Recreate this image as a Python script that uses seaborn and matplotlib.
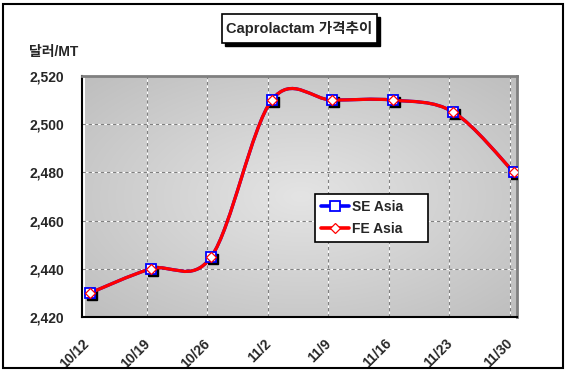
import numpy as np
import pandas as pd
import matplotlib
matplotlib.use("Agg")
import matplotlib.pyplot as plt
import seaborn as sns
from matplotlib.path import Path
from matplotlib.patches import PathPatch, Rectangle
from matplotlib.lines import Line2D
import matplotlib.transforms as mtransforms

# ---- data ----
dates = ["10/12", "10/19", "10/26", "11/2", "11/9", "11/16", "11/23", "11/30"]
se_asia = [2430, 2440, 2445, 2510, 2510, 2510, 2505, 2480]
fe_asia = [2430, 2440, 2445, 2510, 2510, 2510, 2505, 2480]
y_ticks = [2420, 2440, 2460, 2480, 2500, 2520]
title_text = "Caprolactam 가격추이"
y_label = "달러/MT"
series_names = ["SE Asia", "FE Asia"]

sns.set_theme(style="white")
FONT = ["Liberation Sans", "Noto Sans CJK KR", "DejaVu Sans"]
plt.rcParams["font.family"] = FONT

W, H = 569, 373
fig = plt.figure(figsize=(W / 100, H / 100), dpi=100)
fig.patch.set_facecolor("white")

L, R, T, B = 82, 517, 76, 317
ax = fig.add_axes([L / W, (H - B) / H, (R - L) / W, (B - T) / H])

x = np.arange(len(dates))
df = pd.DataFrame({
    "pos": np.concatenate([x, x]),
    "price": se_asia + fe_asia,
    "series": [series_names[0]] * len(x) + [series_names[1]] * len(x),
})

xlim = (-0.085, 7.05)
ylim = (y_ticks[0], y_ticks[-1])
ax.set_xlim(*xlim)
ax.set_ylim(*ylim)

# gradient background (lighter centre)
gx, gy = np.meshgrid(np.linspace(-1, 1, 300), np.linspace(-1, 1, 200))
r = np.sqrt(gx ** 2 + gy ** 2) / np.sqrt(2)
val = 0.895 - 0.15 * np.clip(r, 0, 1) ** 1.0
img = np.dstack([val, val, val])
ax.imshow(img, extent=[xlim[0], xlim[1], ylim[0], ylim[1]], aspect="auto",
          zorder=0, interpolation="bilinear")

# grid lines (white under grey dashes)
grid_off = 0.065
for yv in y_ticks[1:-1]:
    ax.axhline(yv, color="white", lw=0.8, zorder=1)
    ax.axhline(yv, color="#808080", lw=0.8, ls=(0, (3, 2.5)), zorder=1.1)
for xv in x[1:]:
    ax.axvline(xv - grid_off, color="white", lw=0.8, zorder=1)
    ax.axvline(xv - grid_off, color="#808080", lw=0.8, ls=(0, (3, 2.5)), zorder=1.1)


def smooth_path(xs, ys):
    pts = np.column_stack([xs, ys]).astype(float)
    n = len(pts)
    verts = [pts[0]]
    codes = [Path.MOVETO]
    for i in range(n - 1):
        p0 = pts[i - 1] if i > 0 else pts[i]
        p1 = pts[i]
        p2 = pts[i + 1]
        p3 = pts[i + 2] if i + 2 < n else pts[i + 1]
        c1 = p1 + (p2 - p0) / 6.0
        c2 = p2 - (p3 - p1) / 6.0
        verts += [c1, c2, p2]
        codes += [Path.CURVE4] * 3
    return Path(verts, codes)


ax.add_patch(PathPatch(smooth_path(x, se_asia), fill=False, edgecolor="#0000ff",
                       lw=2.3, zorder=3, capstyle="round"))
ax.add_patch(PathPatch(smooth_path(x, fe_asia), fill=False, edgecolor="#ff0000",
                       lw=2.3, zorder=3.5, capstyle="round"))

# marker shadows
shadow = mtransforms.offset_copy(ax.transData, fig=fig, x=2, y=-2, units="dots")
ax.plot(x, se_asia, ls="", marker="s", ms=6.5, mfc="black", mec="black",
        transform=shadow, zorder=3.2)

sub_se = df[df.series == series_names[0]]
sub_fe = df[df.series == series_names[1]]
sns.lineplot(data=sub_se, x="pos", y="price", ax=ax, linestyle="", marker="s",
             markersize=6.8, markerfacecolor="white", markeredgecolor="#0000ff",
             markeredgewidth=1.3, color="#0000ff", zorder=4, legend=False)
sns.lineplot(data=sub_fe, x="pos", y="price", ax=ax, linestyle="", marker="D",
             markersize=5.5, markerfacecolor="white", markeredgecolor="#ff0000",
             markeredgewidth=0.9, color="#ff0000", zorder=5, legend=False)

# axes styling
ax.set_xlabel("")
ax.set_ylabel("")
ax.set_yticks(y_ticks)
ax.set_yticklabels([f"{v:,}" for v in y_ticks], fontsize=10, fontweight="bold")
ax.set_xticks(x - grid_off - 0.07)
ax.set_xticklabels(dates, fontsize=10, fontweight="bold", rotation=45,
                   ha="right", va="top", rotation_mode="anchor")
ax.tick_params(axis="y", length=0, pad=13)
ax.tick_params(axis="x", length=0, pad=14)
for s in ["left", "bottom"]:
    ax.spines[s].set_color("black")
    ax.spines[s].set_linewidth(1.5)
for s in ["top", "right"]:
    ax.spines[s].set_color("#808080")
    ax.spines[s].set_linewidth(2)

# legend
handles = [
    Line2D([], [], color="#0000ff", lw=2.6, marker="s", ms=6.5, mfc="white",
           mec="#0000ff", mew=1.3),
    Line2D([], [], color="#ff0000", lw=2.6, marker="D", ms=5.5, mfc="white",
           mec="#ff0000", mew=0.9),
]
leg = ax.legend(handles, series_names, loc="lower left",
                bbox_to_anchor=(0.536, 0.311, 0.259, 0.187), mode="expand",
                prop={"family": FONT, "weight": "bold", "size": 10},
                frameon=True, fancybox=False, framealpha=1, edgecolor="black",
                handlelength=2.0, handletextpad=0.2, borderaxespad=0,
                labelspacing=0.55, borderpad=0.45)
leg.get_frame().set_linewidth(1.2)
leg.set_zorder(10)

# title with shadow box
fig.patches.append(Rectangle((225 / W, (H - 46) / H), 155 / W, 29 / H,
                             transform=fig.transFigure, facecolor="black",
                             edgecolor="black", zorder=1))
fig.patches.append(Rectangle((222 / W, (H - 43) / H), 155 / W, 29 / H,
                             transform=fig.transFigure, facecolor="white",
                             edgecolor="black", lw=1.2, zorder=2))
fig.text(299.5 / W, (H - 29) / H, title_text, ha="center", va="center",
         fontsize=10.5, fontweight="bold", family=FONT, zorder=3)

# y-axis unit label
fig.text(29 / W, (H - 52) / H, y_label, ha="left", va="center",
         fontsize=10, fontweight="bold", family=FONT)

# outer border
fig.patches.append(Rectangle((3 / W, 5 / H), 560 / W, 364 / H,
                             transform=fig.transFigure, fill=False,
                             edgecolor="black", lw=1.5))

fig.savefig("out.png", dpi=100)
